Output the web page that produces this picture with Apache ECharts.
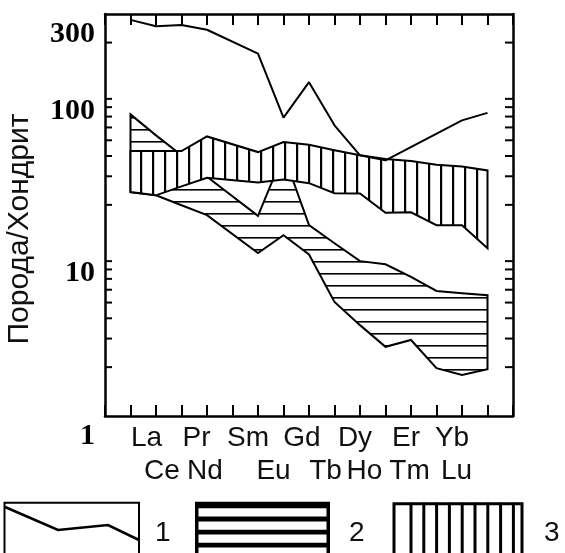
<!DOCTYPE html>
<html>
<head>
<meta charset="utf-8">
<script src="https://cdn.jsdelivr.net/npm/echarts@6/dist/echarts.min.js"></script>
<style>
  html, body { margin: 0; padding: 0; background: #fff; }
  #chart { width: 565px; height: 553px; }
</style>
</head>
<body>
<div id="chart"></div>
<script>
// REE normalised to chondrite; Pm has no data (null)
const elements = ['La', 'Ce', 'Pr', 'Nd', 'Pm', 'Sm', 'Eu', 'Gd', 'Tb', 'Dy', 'Ho', 'Er', 'Tm', 'Yb', 'Lu'];
const yTickLabels = [1, 10, 100, 300];
const yMinorTicks = [2, 3, 4, 5, 6, 7, 8, 9, 20, 30, 40, 50, 60, 70, 80, 90, 200];

// 1 - single sample (line)
const line1 = [276, 252, 257, 240, null, 171, 68.9, 114, 61.8, 40.4, 37.6, null, null, 66.3, 73.8];

// 2 - horizontally hatched field
const field2Upper = [72.2, 53.6, 40.4, 29.8, null, 17.1, 41.2, 15.0, 11.6, 9.0, 8.6, 7.2, 5.9, 5.7, 5.55];
const field2Lower = [24.0, 22.9, 19.9, 17.3, null, 10.1, 13.0, 9.9, 5.05, 3.63, 2.67, 2.94, 1.97, 1.79, 1.94];

// 3 - vertically hatched field
const field3Upper = [42.9, 42.9, 42.9, 52.8, null, 42.3, 48.8, 46.9, 43.4, 40.4, 38.4, 37.3, 35.3, 34.5, 32.6];
const field3Lower = [24.0, 22.9, 26.0, 29.4, null, 27.5, 28.7, 27.2, 23.6, 23.5, 17.9, 18.0, 15.0, 15.0, 10.8];

const legendNames = ['1', '2', '3'];

// ---- styles ----
const INK = '#000';
const TEXT = '#111';
const SANS = '"Liberation Sans", Arial, sans-serif';
const SERIF = '"Liberation Serif", "Times New Roman", serif';

// horizontal shift of each element label (the original lettering is hand-placed)
const labelShift = {
  La: 16, Pr: 15, Sm: -10, Gd: -7, Dy: -5, Er: -5, Yb: -10,
  Ce: 6, Nd: -2, Eu: -10, Tb: -9, Ho: -21, Tm: -27, Lu: -31
};
const bottomRow = ['Ce', 'Nd', 'Eu', 'Tb', 'Ho', 'Tm', 'Lu'];

function hatch(w, h, draw) {
  const c = document.createElement('canvas');
  c.width = w;
  c.height = h;
  const g = c.getContext('2d');
  g.fillStyle = '#fff';
  g.fillRect(0, 0, w, h);
  g.fillStyle = '#000';
  draw(g);
  return { image: c, repeat: 'repeat' };
}
const horizFill = hatch(12, 12, g => g.fillRect(0, 9, 12, 1.6));
const vertFill = hatch(12, 12, g => g.fillRect(8, 0, 2.2, 12));

const categories = [''].concat(elements, ['']);

function fieldSeries(name, upper, lower, fill, z) {
  return {
    type: 'custom',
    name,
    silent: true,
    z,
    data: upper.map((u, i) => [i + 1, u, lower[i]]),
    encode: { x: 0, y: 1 },
    renderItem(params, api) {
      if (params.dataIndex !== 0) return null;
      const top = [];
      const bottom = [];
      upper.forEach((u, i) => { if (u != null) top.push(api.coord([i + 1, u])); });
      lower.forEach((l, i) => { if (l != null) bottom.push(api.coord([i + 1, l])); });
      return {
        type: 'polygon',
        shape: { points: top.concat(bottom.reverse()) },
        style: { fill, stroke: INK, lineWidth: 2, lineJoin: 'miter' }
      };
    }
  };
}

const rich = {};
elements.forEach(el => {
  const dx = labelShift[el] || 0;
  rich[el] = {
    fontSize: 28,
    fontFamily: SANS,
    color: TEXT,
    padding: [bottomRow.includes(el) ? 33 : 0, dx < 0 ? -2 * dx : 0, 0, dx > 0 ? 2 * dx : 0]
  };
});

const tickStyle = { color: INK, width: 2 };
const legendTop = 502.7;

function legendKeys() {
  const kids = [];
  // 1: line sample
  kids.push({ type: 'rect', shape: { x: 4.5, y: legendTop, width: 134.5, height: 80 },
    style: { fill: '#fff', stroke: INK, lineWidth: 2 } });
  kids.push({ type: 'polyline', shape: { points: [[5, 507], [58, 530], [108, 525], [139, 540]] },
    style: { stroke: INK, lineWidth: 2.6, fill: null } });
  // 2: horizontal stripes
  kids.push({ type: 'rect', shape: { x: 195, y: 501.7, width: 135, height: 80 }, style: { fill: INK } });
  for (let k = 0; k < 4; k++) {
    kids.push({ type: 'rect', shape: { x: 198.5, y: 508.3 + k * 13.1, width: 128, height: 8.3 },
      style: { fill: '#fff' } });
  }
  // 3: vertical stripes
  kids.push({ type: 'rect', shape: { x: 394, y: legendTop + 1, width: 128, height: 80 },
    style: { fill: '#fff', stroke: INK, lineWidth: 3 } });
  for (let k = 0; k < 9; k++) {
    kids.push({ type: 'rect', shape: { x: 409.5 + k * 12.8, y: legendTop, width: 3, height: 80 },
      style: { fill: INK } });
  }
  const textX = [155, 349, 544];
  legendNames.forEach((t, i) => {
    kids.push({ type: 'text', x: textX[i], y: 533,
      style: { text: t, fill: TEXT, font: '28px ' + SANS, verticalAlign: 'middle', align: 'left' } });
  });
  return kids;
}

const chart = echarts.init(document.getElementById('chart'), null, { renderer: 'canvas' });

chart.setOption({
  animation: false,
  backgroundColor: '#fff',
  grid: { left: 105, right: 52, top: 14, bottom: 137, containLabel: false, outerBoundsMode: 'none' },
  xAxis: [
    {
      type: 'category',
      position: 'bottom',
      data: categories,
      boundaryGap: false,
      axisLine: { lineStyle: { color: INK, width: 2.5 } },
      axisTick: { inside: true, length: 11, lineStyle: tickStyle, interval: 0 },
      axisLabel: {
        interval: 0,
        margin: 8,
        verticalAlign: 'top',
        align: 'center',
        formatter: v => (v && v !== 'Pm') ? '{' + v + '|' + v + '}' : '',
        rich
      },
      splitLine: { show: false }
    },
    {
      type: 'category',
      position: 'top',
      data: categories,
      boundaryGap: false,
      axisLine: { lineStyle: { color: INK, width: 2.5 } },
      axisTick: { inside: true, length: 11, lineStyle: tickStyle, interval: 0 },
      axisLabel: { show: false },
      splitLine: { show: false }
    }
  ],
  yAxis: [
    {
      type: 'log',
      position: 'left',
      min: 1,
      max: 300,
      name: 'Порода/Хондрит',
      nameLocation: 'middle',
      nameRotate: 90,
      nameGap: 70,
      nameTextStyle: { fontSize: 30, fontFamily: SANS, color: TEXT, padding: [0, 28, 0, 0] },
      axisLine: { show: true, lineStyle: { color: INK, width: 2.5 } },
      axisTick: { inside: true, length: 12, lineStyle: tickStyle },
      axisLabel: {
        margin: 10,
        formatter: v => {
          const r = Math.round(v);
          return yTickLabels.includes(r) ? '{v|' + r + '}' : '';
        },
        rich: {
          v: {
            padding: [40, 0, 0, 0],
            fontSize: 30,
            fontWeight: 'bold',
            fontFamily: SERIF,
            color: INK
          }
        }
      },
      splitLine: { show: false }
    },
    {
      type: 'log',
      position: 'right',
      min: 1,
      max: 300,
      axisLine: { show: true, lineStyle: { color: INK, width: 2.5 } },
      axisTick: { inside: true, length: 10, lineStyle: tickStyle },
      axisLabel: { show: false },
      splitLine: { show: false }
    }
  ],
  series: [
    fieldSeries('2', field2Upper, field2Lower, horizFill, 2),
    fieldSeries('3', field3Upper, field3Lower, vertFill, 3),
    {
      type: 'line',
      name: '1',
      data: line1.map((v, i) => [i + 1, v]),
      connectNulls: true,
      symbol: 'none',
      silent: true,
      z: 4,
      lineStyle: { color: INK, width: 2 }
    },
    {
      type: 'custom',
      name: 'minor ticks',
      silent: true,
      z: 5,
      data: yMinorTicks.map(v => [0, v]),
      encode: { x: 0, y: 1 },
      renderItem(params, api) {
        const cs = params.coordSys;
        const y = api.coord([0, api.value(1)])[1];
        const st = { stroke: INK, lineWidth: 2 };
        return {
          type: 'group',
          children: [
            { type: 'line', shape: { x1: cs.x, y1: y, x2: cs.x + 7, y2: y }, style: st },
            { type: 'line', shape: { x1: cs.x + cs.width - 8, y1: y, x2: cs.x + cs.width, y2: y }, style: st }
          ]
        };
      }
    }
  ],
  graphic: [{ type: 'group', silent: true, children: legendKeys() }]
});
</script>
</body>
</html>
